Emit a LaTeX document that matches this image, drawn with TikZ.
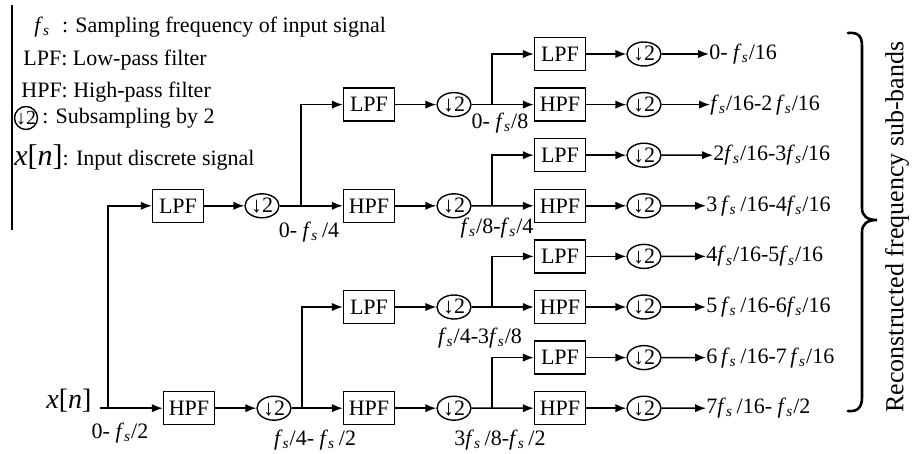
\documentclass[tikz,border=0pt]{standalone}
\usepackage{fontspec}
\setmainfont{Liberation Serif}
\usetikzlibrary{shapes.geometric,arrows.meta}
\newcommand{\fs}{\textit{f}\textsubscript{\textit{s}}}
\newcommand{\xn}{\textit{x}[\textit{n}]}
\begin{document}
\begin{tikzpicture}[x=0.5pt,y=-0.5pt,
  every node/.style={font=\fontsize{11}{13}\selectfont, inner sep=0pt},
  filt/.style={draw, line width=0.7pt, minimum width=25.5pt, minimum height=16.5pt},
  dsmp/.style={draw, ellipse, line width=0.7pt, minimum width=17pt, minimum height=12pt},
  arr/.style={line width=0.75pt, -{Latex[length=5.5pt,width=4.2pt]}},
  wire/.style={line width=0.75pt},
  band/.style={anchor=west},
  legend/.style={anchor=west}]
\useasboundingbox (0,0) rectangle (914,454);

% ---- legend ----
\coordinate (lgtop) at (12,5);
\coordinate (lgbot) at (12,230);
\draw[wire] (lgtop) -- (lgbot);
\node[legend] (lg1) at (34,27) {\fs\hspace{6pt}: Sampling frequency of input signal};
\node[legend] (lg2) at (23,60) {LPF: Low-pass filter};
\node[legend] (lg3) at (21,92) {HPF: High-pass filter};
\node[draw, circle, line width=0.7pt, minimum size=11.5pt, font=\fontsize{10}{10}\selectfont] (lgc) at (26,118) {\makebox[0pt]{↓2}};
\node[legend] (lg4) at (lgc.east) {\,: Subsampling by 2};
\node[legend] (lg5) at (14,157) {{\fontsize{15}{15}\selectfont\xn}: Input discrete signal};

% ---- input ----
\node (xn) at (69,401) {\fontsize{14}{14}\selectfont\xn};
\coordinate (in) at (100,408.2);
\coordinate (sp0) at (108,408.2);

% ---- stage 1 ----
\node[filt] (L1) at (178,205.8) {LPF};
\node[filt] (H1) at (189,408.2) {HPF};
\node[dsmp] (D1a) at (262,205.8) {↓2};
\node[dsmp] (D1b) at (274,408.2) {↓2};

% ---- stage 2 ----
\node[filt] (L2a) at (369,104.6) {LPF};
\node[filt] (H2a) at (369,205.8) {HPF};
\node[filt] (L2b) at (369,307) {LPF};
\node[filt] (H2b) at (369,408.2) {HPF};
\node[dsmp] (D2a) at (454,104.6) {↓2};
\node[dsmp] (D2b) at (454,205.8) {↓2};
\node[dsmp] (D2c) at (454,307) {↓2};
\node[dsmp] (D2d) at (454,408.2) {↓2};

% ---- stage 3 ----
\foreach \k/\t in {0/LPF,1/HPF,2/LPF,3/HPF,4/LPF,5/HPF,6/LPF,7/HPF}{
  \node[filt] (F\k) at (560,{54+50.6*\k}) {\t};
  \node[dsmp] (S\k) at (644,{54+50.6*\k}) {↓2};
}

% ---- output sub-bands ----
\node[band] (B0) at (709,54)    {0- \fs/16};
\node[band] (B1) at (710,104.6) {\fs/16-2\,\fs/16};
\node[band] (B2) at (713,155.2) {2\fs/16-3\fs/16};
\node[band] (B3) at (706,205.8) {3\,\fs\,/16-4\fs/16};
\node[band] (B4) at (706,256.4) {4\fs/16-5\fs/16};
\node[band] (B5) at (706,307)   {5\,\fs\,/16-6\fs/16};
\node[band] (B6) at (706,357.6) {6\,\fs\,/16-7\,\fs/16};
\node[band] (B7) at (706,408.2) {7\fs\,/16- \fs/2};

% ---- band labels along the tree ----
\node (lb1) at (120,433) {0- \fs/2};
\node (lb2) at (309,232) {0- \fs\,/4};
\node (lb3) at (315,440) {\fs/4- \fs\,/2};
\node (lb4) at (500,123) {0- \fs/8};
\node (lb5) at (497,228) {\fs/8-\fs/4};
\node (lb6) at (480,338) {\fs/4-3\fs/8};
\node (lb7) at (500,440) {3\fs\,/8-\fs\,/2};

% ---- connectors ----
\draw[arr] (in) -- (H1);
\draw[arr] (sp0) |- (L1);
\draw[arr] (L1) -- (D1a);
\draw[arr] (H1) -- (D1b);

\coordinate (sp1a) at (301,205.8);
\coordinate (sp1b) at (302,408.2);
\draw[arr] (D1a) -- (H2a);
\draw[arr] (sp1a) |- (L2a);
\draw[arr] (D1b) -- (H2b);
\draw[arr] (sp1b) |- (L2b);

\draw[arr] (L2a) -- (D2a);
\draw[arr] (H2a) -- (D2b);
\draw[arr] (L2b) -- (D2c);
\draw[arr] (H2b) -- (D2d);

\coordinate (sp2a) at (492,104.6);
\coordinate (sp2b) at (492,205.8);
\coordinate (sp2c) at (492,307);
\coordinate (sp2d) at (492,408.2);
\draw[arr] (D2a) -- (F1);  \draw[arr] (sp2a) |- (F0);
\draw[arr] (D2b) -- (F3);  \draw[arr] (sp2b) |- (F2);
\draw[arr] (D2c) -- (F5);  \draw[arr] (sp2c) |- (F4);
\draw[arr] (D2d) -- (F7);  \draw[arr] (sp2d) |- (F6);

\foreach \k in {0,...,7}{
  \draw[arr] (F\k) -- (S\k);
  \draw[arr] (S\k) -- (B\k.west);
}

% ---- grouping brace and caption ----
\coordinate (brtop) at (848,33);
\coordinate (brtip) at (877,220);
\coordinate (brbot) at (848,411);
\draw[line width=1.3pt, line cap=round]
  (brtop) .. controls (858,32) and (862,36) .. (862,46) -- (862,208)
  .. controls (862,216) and (867,220) .. (brtip)
  .. controls (867,220) and (862,224) .. (862,232) -- (862,397)
  .. controls (862,407) and (858,412) .. (brbot);
\node[rotate=90, font=\fontsize{13}{15}\selectfont] (cap) at (897,227) {Reconstructed frequency sub-bands};
\end{tikzpicture}
\end{document}
